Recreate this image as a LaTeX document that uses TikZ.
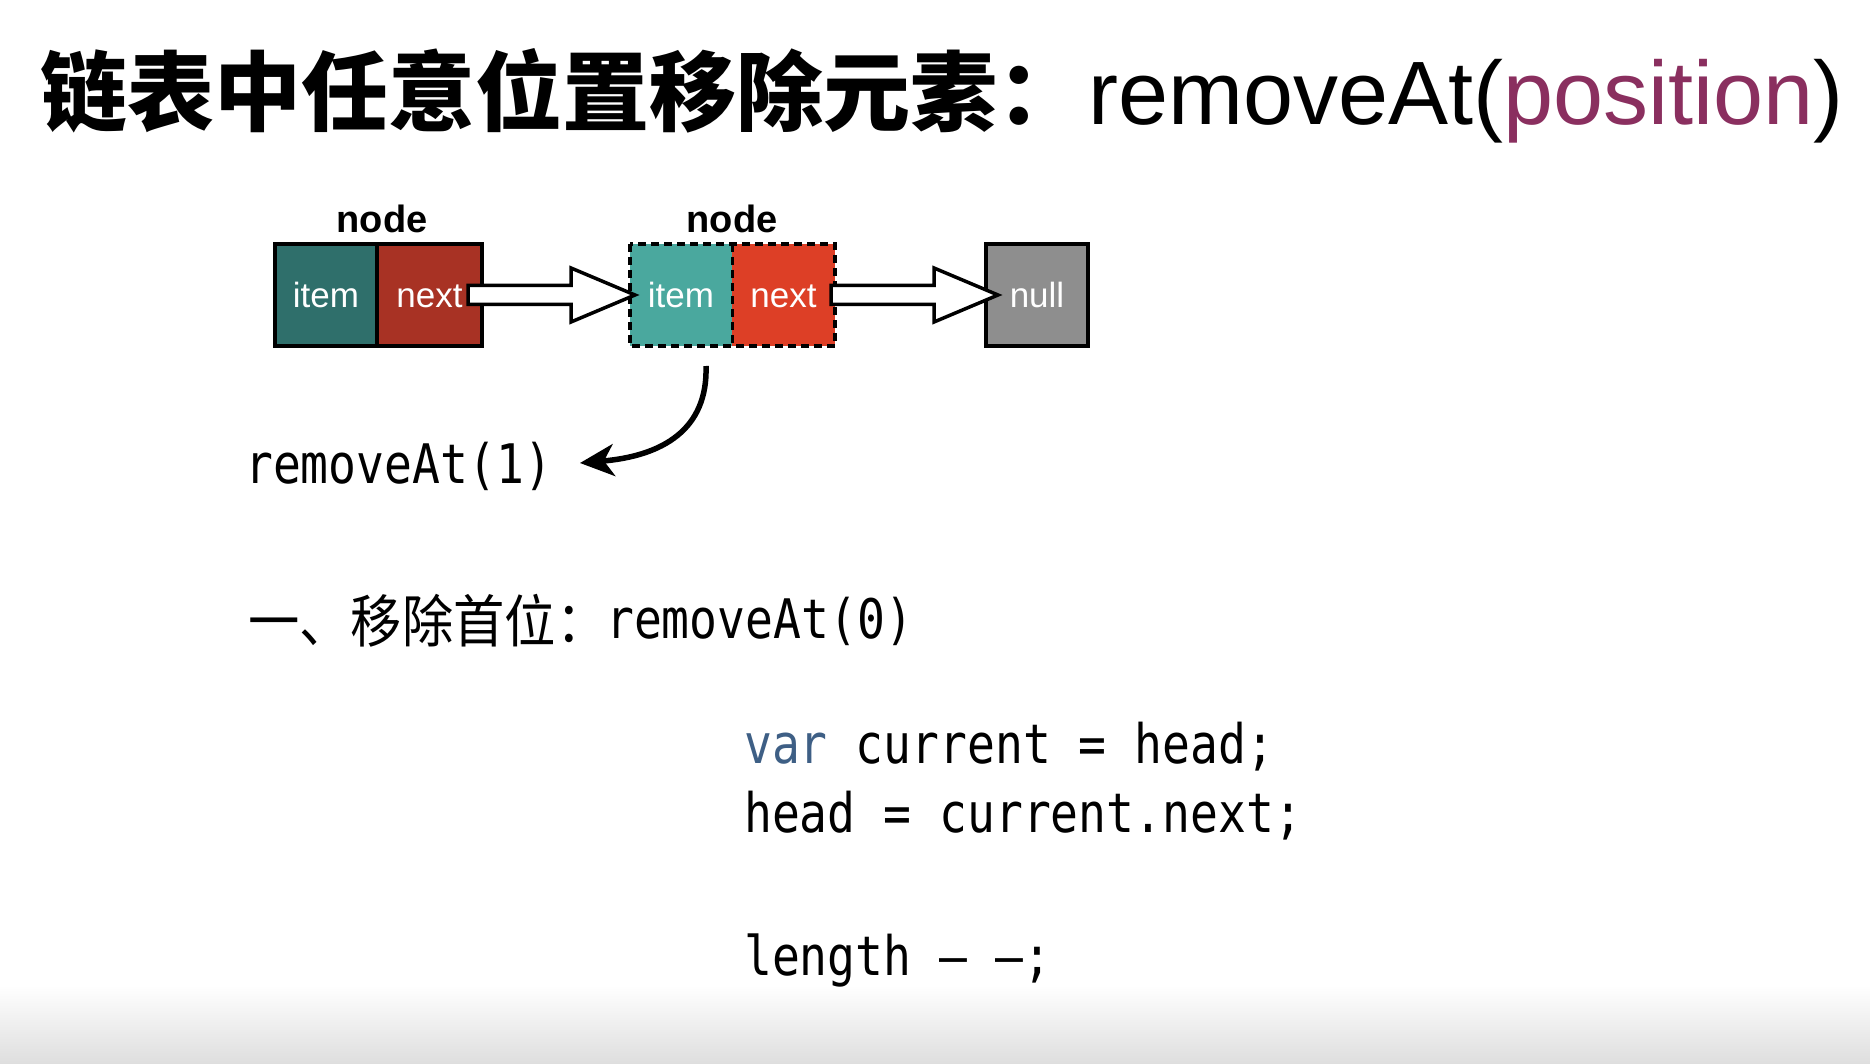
\documentclass[tikz,border=0pt]{standalone}
\usepackage{fontspec}
\setmainfont{Liberation Sans}
\newfontfamily\cjk{Noto Sans CJK SC}
\newfontfamily\cjkn[FakeStretch=0.9]{Noto Sans CJK SC}
\newfontfamily\codefont[FakeStretch=0.85]{DejaVu Sans Mono}
\usetikzlibrary{arrows.meta,calc}
\definecolor{itemA}{HTML}{2F6F6B}
\definecolor{nextA}{HTML}{A83224}
\definecolor{itemB}{HTML}{4AA89E}
\definecolor{nextB}{HTML}{DD3F26}
\definecolor{nullC}{HTML}{8E8E8E}
\definecolor{poscol}{HTML}{8A2F5F}
\definecolor{varcol}{HTML}{3E5F85}
\tikzset{
  cell/.style={minimum width=102pt, minimum height=102pt, inner sep=0pt, outer sep=0pt,
    text=white, font=\fontsize{35}{40}\selectfont, text height=25pt, text depth=0pt, line width=4.5pt},
  solidcell/.style={cell, draw=black},
  lbl/.style={anchor=base, inner sep=0pt, font=\bfseries\fontsize{38}{40}\selectfont},
  harrow/.style={draw=black, fill=white, line width=3.5pt, line join=miter},
  code/.style={anchor=base west, inner sep=0pt, font=\codefont\fontsize{54.5}{60}\selectfont},
  curv/.style={line width=5.5pt, -{Stealth[length=34pt,width=32pt,inset=10pt]}},
}
\newcommand\hollowarrow[2]{%
  \draw[harrow] let \p1=(#1), \p2=(#2) in
    (\x1,\y1+9.5pt) -- (\x2-64pt,\y1+9.5pt) -- (\x2-64pt,\y1+27pt) -- (\x2,\y1)
    -- (\x2-64pt,\y1-27pt) -- (\x2-64pt,\y1-9.5pt) -- (\x1,\y1-9.5pt) -- cycle;}
\begin{document}
\begin{tikzpicture}[x=1pt,y=-1pt]
\useasboundingbox (0,0) rectangle (1870,1064);
\fill[white] (0,0) rectangle (1870,1064);
\shade[top color=white, bottom color=black!13] (0,985) rectangle (1870,1064);

% title
\node[anchor=base west, inner sep=0pt, font=\cjk\bfseries\fontsize{87}{90}\selectfont] (titlecn) at (40,125) {链表中任意位置移除元素：};
\node[anchor=base west, inner sep=0pt, font=\fontsize{90}{95}\selectfont] (titleen) at (1088,125) {removeAt(\textcolor{poscol}{position})};

% node labels
\node[lbl] (lab1) at (382,233) {node};
\node[lbl] (lab2) at (732,233) {node};

% first node
\node[solidcell, fill=itemA] (item1) at (326,295) {item};
\node[solidcell, fill=nextA, minimum width=105pt] (next1) at (429.5,295) {next};

% second node (dashed)
\node[cell, fill=itemB] (item2) at (681,295) {item};
\node[cell, fill=nextB, minimum width=103pt] (next2) at (783.5,295) {next};
\draw[line width=4pt, dash pattern=on 8pt off 5pt] (item2.north west) rectangle (next2.south east);
\draw[line width=3pt, dash pattern=on 8pt off 5pt] (item2.north east) -- (item2.south east);

% null
\node[solidcell, fill=nullC] (nullbox) at (1037,295) {null};

% hollow arrows
\hollowarrow{$(next1.east)+(-14,0)$}{$(item2.west)+(5,0)$}
\hollowarrow{$(next2.east)+(-4,0)$}{$(nullbox.west)+(12,0)$}

% removeAt(1) with curved arrow
\node[code] (rm1) at (245,483) {removeAt(1)};
\coordinate (cstart) at ($(item2.south)+(25,20)$);
\coordinate (cend) at (580,463);
\draw[curv] (cstart) .. controls (708,430) and (662,456) .. (cend);

% section heading
\node[anchor=base west, inner sep=0pt, font=\cjkn\fontsize{57}{60}\selectfont] (sec) at (248,642) {一、移除首位：};
\node[code] (rm0) at (606,638) {removeAt(0)};

% code
\node[code] (c1) at (744,763) {\textcolor{varcol}{var} current = head;};
\node[code] (c2) at (744,832) {head = current.next;};
\node[code] (c3) at (744,975) {length — —;};
\end{tikzpicture}
\end{document}
